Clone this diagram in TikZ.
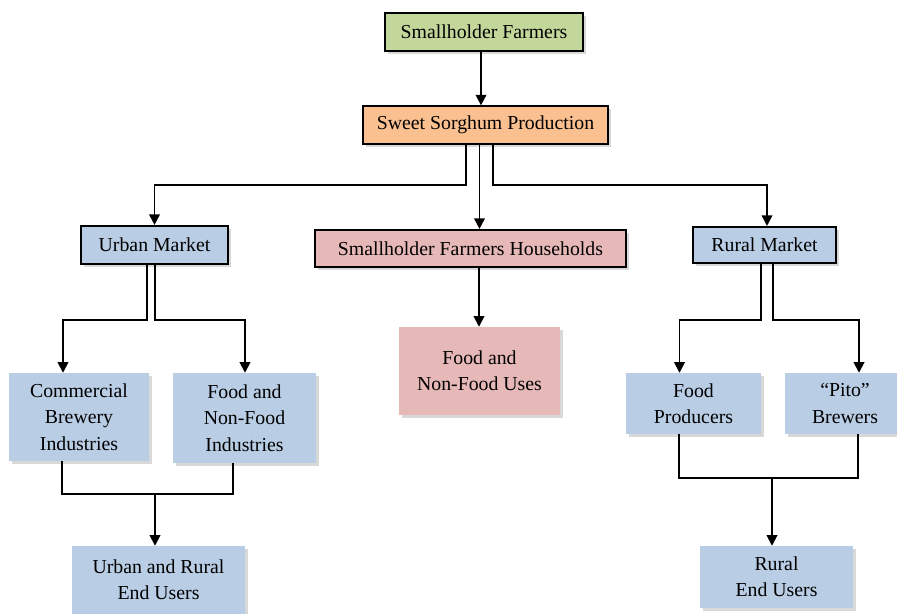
\documentclass[tikz,border=0pt]{standalone}
\usepackage{fontspec}
\setmainfont{Liberation Serif}
\usepackage{tikz}
\usetikzlibrary{arrows.meta,calc,positioning,shadows}
\definecolor{boxgreen}{RGB}{196,215,155}
\definecolor{boxorange}{RGB}{250,192,144}
\definecolor{boxblue}{RGB}{185,205,229}
\definecolor{boxpink}{RGB}{230,185,184}
\tikzset{%
	box/.style       = {rectangle, align=center, inner sep=0pt, font=\fontsize{16.9}{22.5}\selectfont, drop shadow={shadow xshift=2.5pt, shadow yshift=-2.5pt, opacity=0.3}},
	greenbox/.style  = {box, fill=boxgreen, draw, line width=1.8pt},
	orangebox/.style = {box, fill=boxorange, draw, line width=1.1pt},
	bluebox/.style   = {box, fill=boxblue},
	pinkbox/.style   = {box, fill=boxpink},
	wire/.style      = {line width=1.5pt},
	arrow/.style     = {wire, -{Triangle[length=9pt,width=9pt]}},
}
\begin{document}
\begin{tikzpicture}[x=0.03cm,y=-0.03cm]
	\clip (0,0) rectangle (897,613);  % page
	\fill[white] (0,0) rectangle (897,613);

	% top
	\node[greenbox, minimum width=5.94cm, minimum height=1.14cm] (farmers) at (484,32) {Smallholder Farmers};
	\node[orangebox, minimum width=7.35cm, minimum height=1.14cm] (sorghum) at (485.5,125) {Sweet Sorghum Production};

	% markets
	\node[bluebox, draw, line width=1.8pt, minimum width=4.41cm, minimum height=1.14cm] (urban) at (154.5,245) {Urban Market};
	\node[pinkbox, draw, line width=1.8pt, minimum width=9.33cm, minimum height=1.11cm] (house) at (470.5,248.5) {Smallholder Farmers Households};
	\node[bluebox, draw, line width=1.8pt, minimum width=4.29cm, minimum height=1.08cm] (rural) at (764.5,245) {Rural Market};

	% users
	\node[pinkbox, minimum width=4.83cm, minimum height=2.64cm] (uses) at (479.5,371) {Food and\\Non-Food Uses};
	\node[bluebox, minimum width=4.2cm, minimum height=2.64cm] (brewery) at (79,417) {Commercial\\Brewery\\Industries};
	\node[bluebox, minimum width=4.29cm, minimum height=2.7cm] (industry) at (244.5,418) {Food and\\Non-Food\\Industries};
	\node[bluebox, minimum width=4.05cm, minimum height=1.83cm] (producers) at (693.5,403.5) {Food\\Producers};
	\node[bluebox, minimum width=3.6cm, minimum height=1.83cm] (pito) at (845,403.5) {``Pito''\\Brewers};
	\node[bluebox, minimum width=5.19cm, minimum height=2.04cm] (urbanend) at (158.5,580) {Urban and Rural\\End Users};
	\node[bluebox, minimum width=4.59cm, minimum height=1.86cm] (ruralend) at (776.5,577) {Rural\\End Users};

	\draw[arrow] (farmers.south -| 481,0) -- (sorghum.north -| 481,0);
	\draw[arrow] ($(sorghum.south)+(-19.5,0)$) -- ++(0,40) -| (urban.north);
	\draw[arrow] ($(sorghum.south)+(-6,0)$) -- ($(house.north)+(9,0)$);
	\draw[arrow] ($(sorghum.south)+(7.5,0)$) -- ++(0,40) -| ($(rural.north)+(2.5,0)$);
	\draw[arrow] ($(house.south)+(8.5,0)$) -- ($(uses.north)+(-0.5,0)$);

	\draw[arrow] ($(urban.south)+(-7.5,0)$) -- ++(0,55) -| ($(brewery.north)+(-16,0)$);
	\draw[arrow] ($(urban.south)+(0.5,0)$) -- ++(0,55) -| ($(industry.north)+(0.5,0)$);
	\draw[arrow] ($(rural.south)+(-3.5,0)$) -- ++(0,56) -| ($(producers.north)+(-14,0)$);
	\draw[arrow] ($(rural.south)+(8.5,0)$) -- ++(0,56) -| ($(pito.north)+(14,0)$);

	% merge to end users
	\draw[wire] ($(brewery.south)+(-17,0)$) -- ++(0,33) -| ($(industry.south)+(-11.5,0)$);
	\draw[arrow] ($(urbanend.north)+(-3.5,-51)$) -- ($(urbanend.north)+(-3.5,0)$);
	\draw[wire] ($(producers.south)+(-14.5,0)$) -- ++(0,44) -| ($(pito.south)+(13,0)$);
	\draw[arrow] ($(ruralend.north)+(-4.5,-67)$) -- ($(ruralend.north)+(-4.5,0)$);
\end{tikzpicture}
\end{document}
